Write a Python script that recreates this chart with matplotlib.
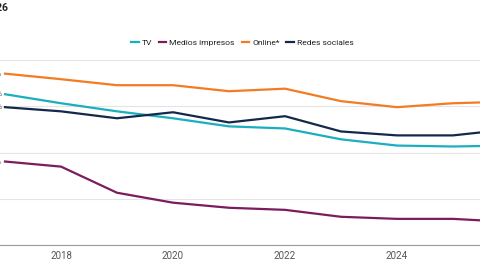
import matplotlib
matplotlib.use("Agg")
import matplotlib.pyplot as plt

# Data (% of respondents)
YEARS = [2017, 2018, 2019, 2020, 2021, 2022, 2023, 2024, 2025, 2026]
TV = [65.2, 61.3, 57.8, 54.8, 51.3, 50.4, 45.7, 43.0, 42.6, 43.0]
PRINT = [36.1, 33.9, 22.6, 18.3, 16.1, 15.2, 12.2, 11.3, 11.3, 10.0]
ONLINE = [74.1, 71.7, 69.1, 69.1, 66.5, 67.6, 62.2, 59.6, 61.3, 62.0]
SOCIAL = [59.6, 57.8, 54.8, 57.4, 53.0, 55.7, 49.1, 47.4, 47.4, 50.0]
SERIES_NAMES = ["TV", "Medios impresos", "Online*", "Redes sociales"]
X_TICKS = [2018, 2020, 2022, 2024, 2026]
Y_TICKS = [0, 20, 40, 60, 80]
TITLE = "Fuentes de noticias en España, 2017-2026"

# Colors
TEAL = "#1aafbf"
PURPLE = "#7b1d5c"
ORANGE = "#f27c22"
NAVY = "#13294b"
GRID = "#e4e4e4"
AXIS = "#9a9a9a"
TEXT = "#222222"
TEXT2 = "#555555"

plt.rcParams["font.family"] = ["Roboto", "DejaVu Sans"]

W, H = 480, 270
fig = plt.figure(figsize=(W / 100, H / 100), dpi=100, facecolor="white")

# plot area: 2017 sits 5px from the left edge, 56px per year
x0, px_year = 5, 56
ax = fig.add_axes([0, (H - 245) / H, 1, (245 - 60) / H])

colors = [TEAL, PURPLE, ORANGE, NAVY]
for name, vals, c in zip(SERIES_NAMES, [TV, PRINT, ONLINE, SOCIAL], colors):
    ax.plot(YEARS, vals, color=c, lw=1.6, label=name, solid_joinstyle="round")
    # start-value label, mostly cut off by the frame
    ax.annotate(f"{vals[0]:.0f}%", (YEARS[0], vals[0]), xytext=(-2, 0),
                textcoords="offset points", ha="right", va="center",
                fontsize=5.5, color=TEXT2, clip_on=False)

ax.set_yticks(Y_TICKS)
ax.set_yticklabels([])
ax.grid(True, axis="y", color=GRID, lw=0.8)
ax.set_axisbelow(True)
ax.set_xticks(X_TICKS)
ax.set_xticklabels([str(t) for t in X_TICKS], fontsize=7, color=TEXT2)
ax.tick_params(length=0, pad=4)
ax.set_xlim(2017 - x0 / px_year, 2017 + (W - x0) / px_year)
ax.set_ylim(0, 80)
for s in ["top", "right", "left"]:
    ax.spines[s].set_visible(False)
ax.spines["bottom"].set_color(AXIS)
ax.spines["bottom"].set_linewidth(0.8)

fig.legend(loc="center", bbox_to_anchor=(0.505, 1 - 43 / H), ncol=4,
           frameon=False, fontsize=6.1, handlelength=0.9, handletextpad=0.35,
           columnspacing=0.8, labelcolor=TEXT)

fig.text(8 / W, 1 - 8 / H, TITLE, ha="right", va="center",
         fontsize=7.5, fontweight="bold", color=TEXT)

fig.savefig("out.png", dpi=100, facecolor="white")
